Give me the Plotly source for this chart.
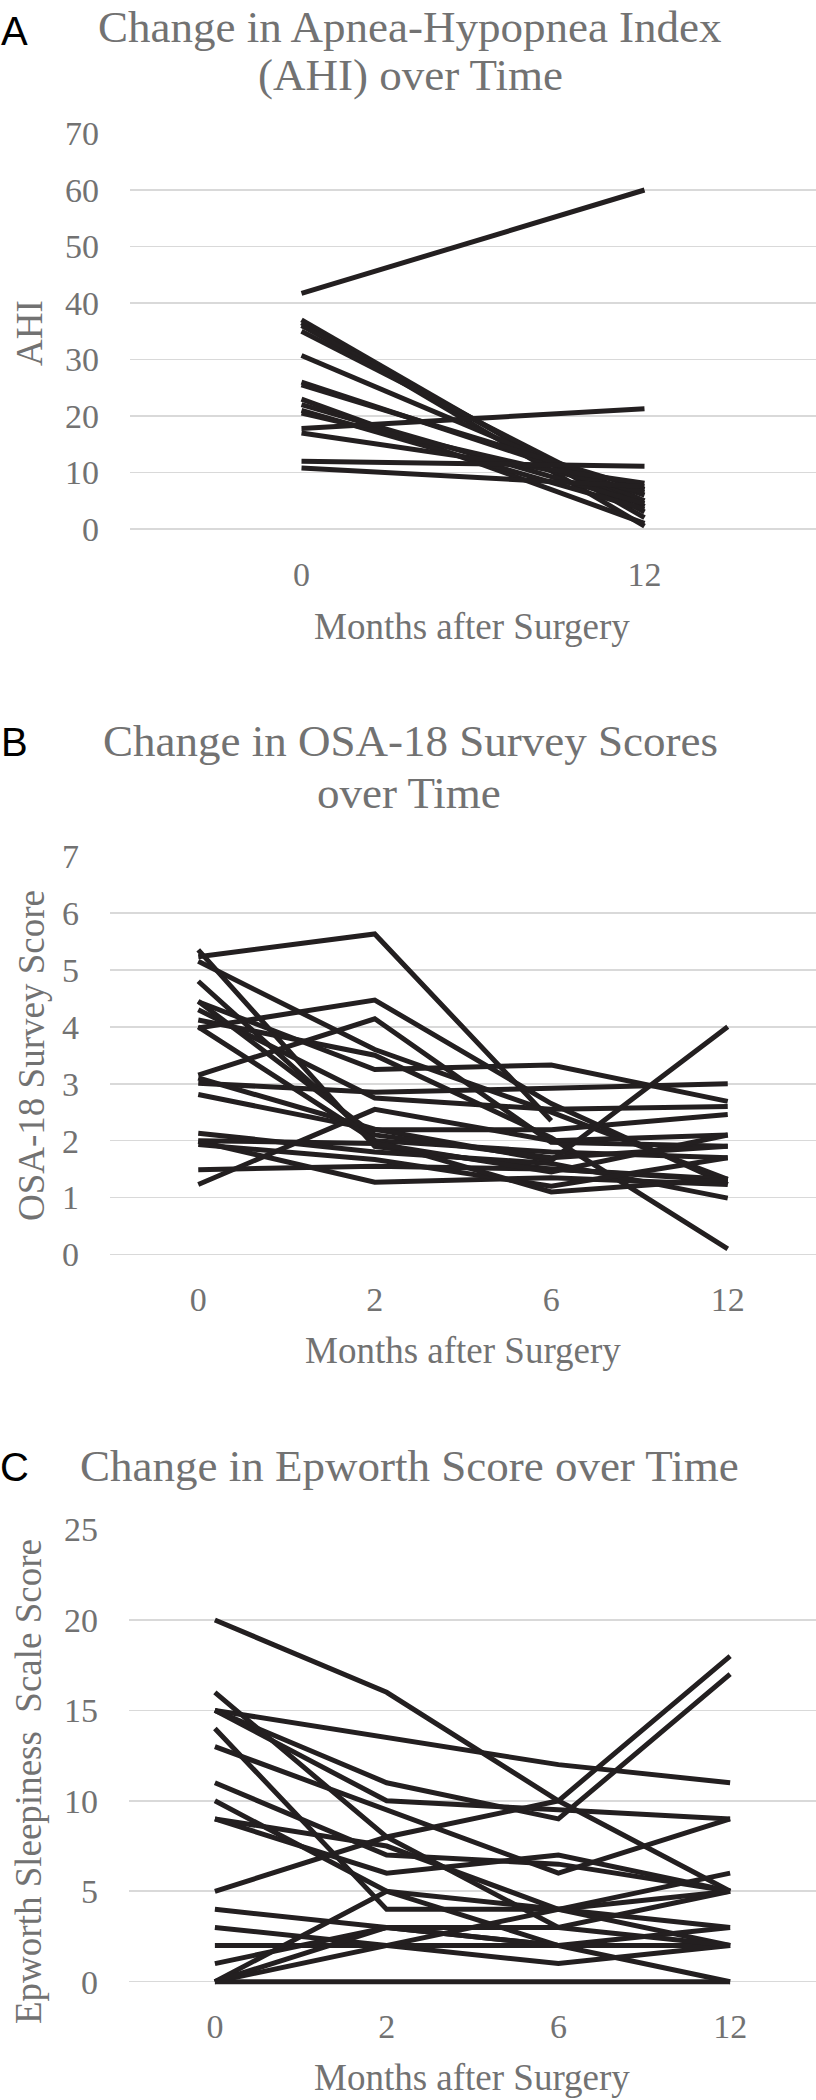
import plotly.graph_objects as go

# ---------------- data ----------------
# Panel A: AHI at 0 and 12 months (one entry per patient)
ahi_months = ["0", "12"]
ahi_0mo = [41.7, 37.0, 36.5, 36.0, 35.0, 30.7, 26.0, 25.5, 23.0, 22.0, 21.0, 20.5, 17.8, 17.0, 12.0, 10.8]
ahi_12mo = [60.0, 2.0, 0.5, 3.0, 4.0, 5.0, 6.0, 7.0, 1.0, 4.5, 3.5, 6.5, 21.3, 8.1, 11.1, 7.5]

# Panel B: OSA-18 survey scores at 0, 2, 6, 12 months
osa_months = ["0", "2", "6", "12"]
osa_0mo = [5.23, 5.35, 5.15, 4.80, 4.44, 4.30, 4.12, 3.98, 3.15, 3.01, 2.81, 1.23, 1.49, 1.99, 2.13, 1.93, 4.00, 3.10, 2.00, 4.45]
osa_2mo = [5.63, 1.90, 3.60, 2.00, 3.25, 2.75, 3.50, 4.47, 4.14, 2.85, 2.19, 2.55, 1.55, 1.27, 1.80, 1.67, 2.00, 2.20, 1.95, 2.10]
osa_6mo = [2.35, 1.50, 2.50, 1.80, 3.33, 2.55, 2.05, 2.65, 1.97, 2.92, 2.19, 2.00, 1.50, 1.35, 1.60, 1.20, 1.10, 1.65, 1.45, 1.70]
osa_12mo = [None, 1.30, 1.32, 1.70, 2.69, 2.60, 0.10, 1.23, 1.90, 3.00, 2.46, 2.10, 1.32, 1.23, 0.99, 1.70, 1.32, 4.00, 2.10, 1.90]

# Panel C: Epworth Sleepiness Scale scores at 0, 2, 6, 12 months
ess_months = ["0", "2", "6", "12"]
ess_0mo = [20, 15, 15, 15, 5, 16, 14, 13, 11, 10, 9, 9, 4, 3, 2, 1, 0, 0, 0, 0]
ess_2mo = [16, 13.5, 11, 10, 8, 8, 4, 9.5, 7, 5, 6, 7.5, 3, 2, 2, 3, 2, 5, 3, 0]
ess_6mo = [10, 12, 9, 9.5, 10, 3, 4, 6, 6.5, 2, 7, 4, 2, 1, 2, 2, 4, 4, 3, 0]
ess_12mo = [5, 11, 17, 9, 18, 5, 5, 9, 5, 2, 5, 2, 0, 2, 3, 2, 6, 3, 2, 0]

# ---------------- style ----------------
W, H = 816, 2100
LINE_COLOR = "#231F20"
TEXT_GRAY = "#727272"
GRID = "#D9D9D9"
SERIF = "Liberation Serif"
SANS = "Liberation Sans"


def fx(px):
    return px / W


def fy(py):
    return 1 - py / H


fig = go.Figure()


def add_lines(months, cols, xa, ya):
    n = len(cols[0])
    for i in range(n):
        fig.add_trace(go.Scatter(
            x=months, y=[c[i] for c in cols], mode="lines",
            line=dict(color=LINE_COLOR, width=5),
            connectgaps=False, showlegend=False, hoverinfo="skip",
            xaxis=xa, yaxis=ya))


add_lines(ahi_months, [ahi_0mo, ahi_12mo], "x", "y")
add_lines(osa_months, [osa_0mo, osa_2mo, osa_6mo, osa_12mo], "x2", "y2")
add_lines(ess_months, [ess_0mo, ess_2mo, ess_6mo, ess_12mo], "x3", "y3")


def xaxis(left_px, ncat, anchor):
    return dict(domain=[fx(left_px), 1.0], type="category", range=[-0.5, ncat - 0.5],
                showgrid=False, showline=False, zeroline=False, ticks="",
                automargin=False,
                tickfont=dict(family=SERIF, size=34, color=TEXT_GRAY),
                ticklabelstandoff=16, anchor=anchor, fixedrange=True)


def yaxis(top_px, zero_px, vmin, vmax, dtick, anchor):
    per = (zero_px - top_px) / vmax
    bottom_px = zero_px - vmin * per
    return dict(domain=[fy(bottom_px), fy(top_px)], range=[vmin, vmax],
                tickmode="linear", tick0=0, dtick=dtick,
                showgrid=True, gridcolor=GRID, gridwidth=1.6,
                zeroline=False, showline=False, ticks="",
                automargin=False,
                tickfont=dict(family=SERIF, size=34, color=TEXT_GRAY),
                ticklabelstandoff=30, anchor=anchor, fixedrange=True)


fig.update_layout(
    template="none",
    width=W, height=H,
    margin=dict(l=0, r=0, t=0, b=0, pad=0, autoexpand=False),
    paper_bgcolor="white", plot_bgcolor="white",
    font=dict(family=SERIF, color=TEXT_GRAY, size=34),
    showlegend=False,
    xaxis=xaxis(130, 2, "y"),
    yaxis=yaxis(133.5, 529, -1, 70, 10, "x"),
    xaxis2=xaxis(110, 4, "y2"),
    yaxis2=yaxis(856, 1254.5, -0.1, 7, 1, "x2"),
    xaxis3=xaxis(129, 4, "y3"),
    yaxis3=yaxis(1529.5, 1981.7, -0.3, 25, 5, "x3"),
)

ann = []


def text(x, y, s, size, color=TEXT_GRAY, family=SERIF, angle=0):
    ann.append(dict(x=fx(x), y=fy(y), xref="paper", yref="paper", text=s,
                    showarrow=False, xanchor="center", yanchor="middle",
                    textangle=angle, font=dict(family=family, size=size, color=color)))


# panel letters
text(14, 31, "A", 40, "#000000", SANS)
text(14, 742, "B", 40, "#000000", SANS)
text(14, 1467, "C", 40, "#000000", SANS)

# panel titles (wrapped as in the reference)
text(410, 27, "Change in Apnea-Hypopnea Index", 45)
text(410, 75, "(AHI) over Time", 45)
text(410, 741, "Change in OSA-18 Survey Scores", 45)
text(409, 793, "over Time", 45)
text(409, 1466, "Change in Epworth Score over Time", 45)

# axis titles
text(472, 626, "Months after Surgery", 37)
text(463, 1350, "Months after Surgery", 37)
text(472, 2077, "Months after Surgery", 37)
text(29, 333, "AHI", 37, angle=-90)
text(31, 1056, "OSA-18 Survey Score", 37, angle=-90)
text(28, 1782, "Epworth Sleepiness  Scale Score", 37, angle=-90)

fig.update_layout(annotations=ann)

fig.write_html("out.html",
               config={"displayModeBar": False, "staticPlot": True},
               post_script="document.body.style.margin='0';document.body.style.padding='0';")
